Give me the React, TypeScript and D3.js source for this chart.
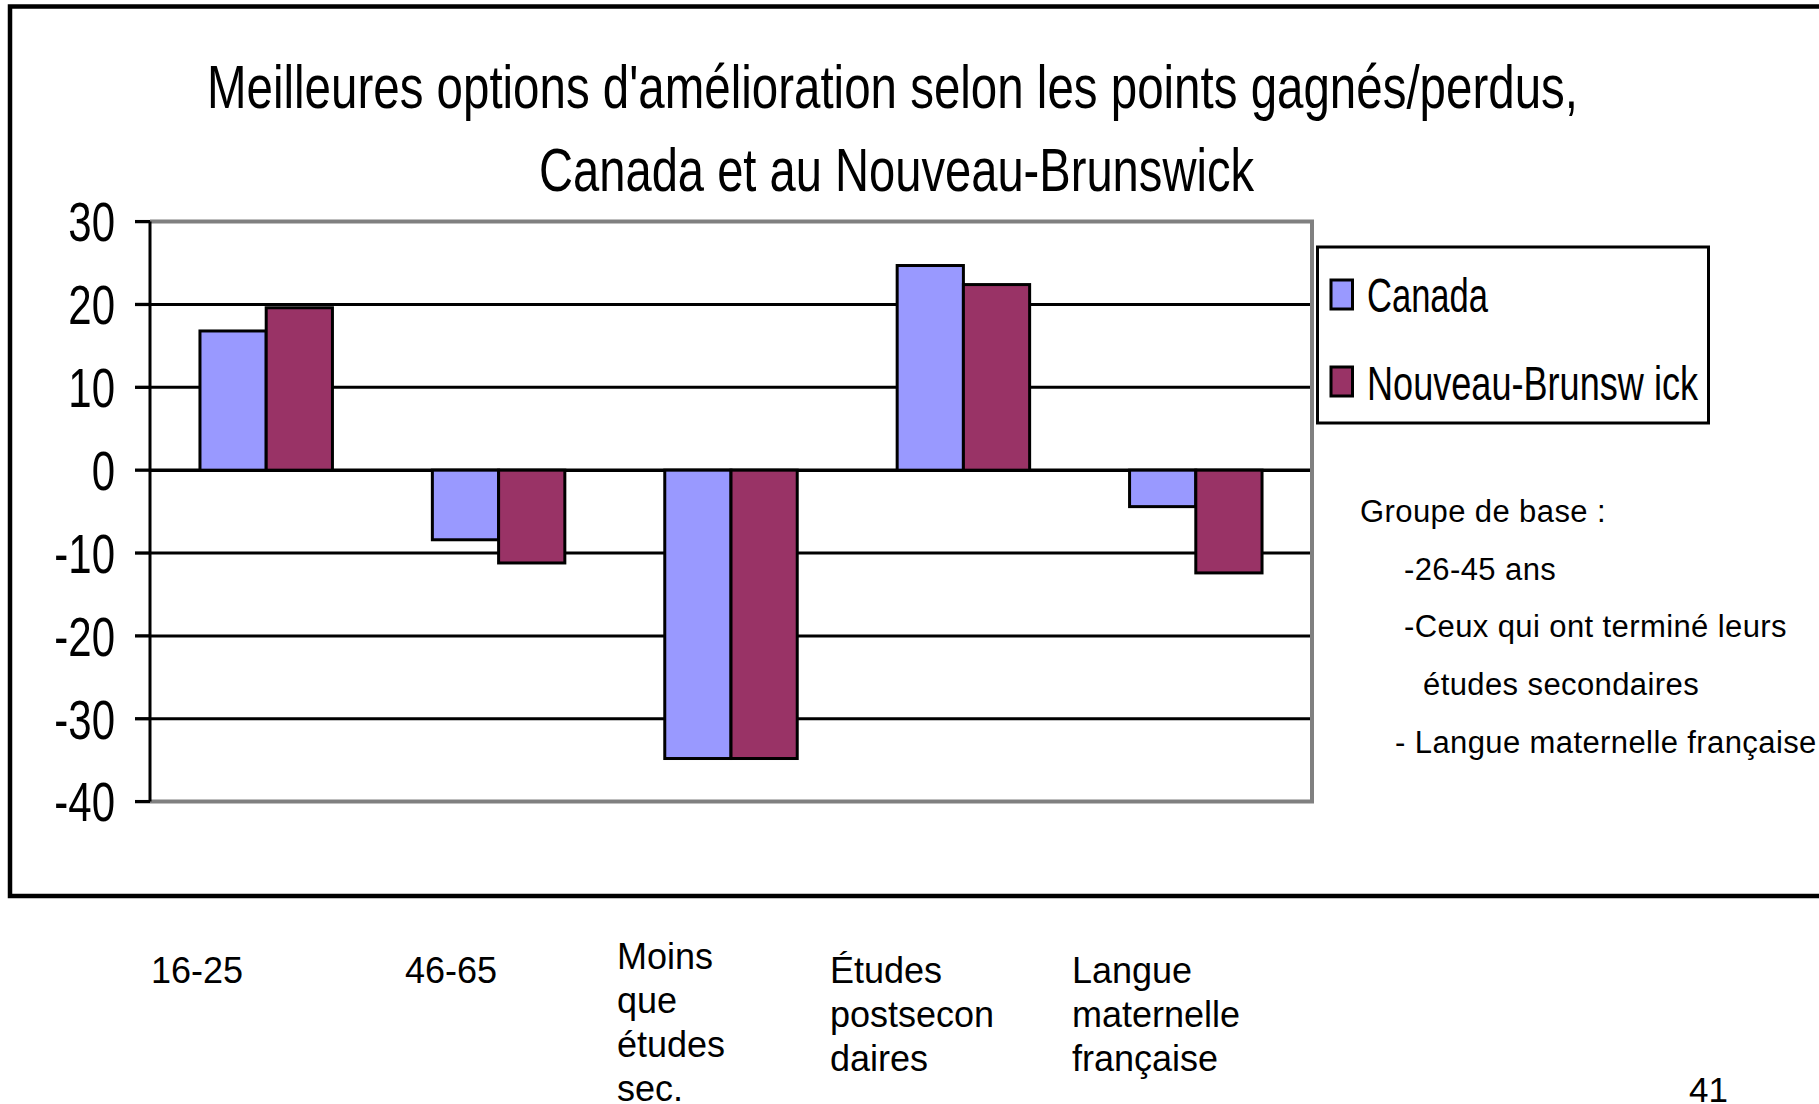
import React from 'react';
import * as d3 from 'd3';

// chart data
const categories = [
  '16-25',
  '46-65',
  'Moins que études sec.',
  'Études postsecondaires',
  'Langue maternelle française'
];
const seriesNames = ['Canada', 'Nouveau-Brunsw ick'];
const canadaValues = [16.8, -8.4, -34.8, 24.7, -4.4];
const nbValues = [19.6, -11.2, -34.8, 22.4, -12.4];
const yTicks = [30, 20, 10, 0, -10, -20, -30, -40];

const titleLines = [
  "Meilleures options d'amélioration selon les points gagnés/perdus,",
  'Canada et au Nouveau-Brunswick'
];
const categoryLabelLines = [
  ['16-25'],
  ['46-65'],
  ['Moins', 'que', 'études', 'sec.'],
  ['Études', 'postsecon', 'daires'],
  ['Langue', 'maternelle', 'française']
];
const noteLines = [
  'Groupe de base :',
  '-26-45 ans',
  '-Ceux qui ont terminé leurs',
  'études secondaires',
  '- Langue maternelle française'
];
const pageNumber = '41';

// layout
const W = 1819;
const H = 1104;
const plot = { left: 150, right: 1312, top: 221.6, bottom: 801.6 };
const colors = ['#9999FF', '#993366'];
const font = 'Liberation Sans, Arial, Helvetica, sans-serif';
const labelX = [151, 405, 617, 830, 1072];
const labelTop = [983, 983, 969, 983, 983];
const noteX = [1360, 1404, 1404, 1423, 1395];
const legendTextLen = [121, 331];

const App = () => {
  const x0 = d3
    .scaleBand<string>()
    .domain(categories)
    .range([plot.left, plot.right])
    .paddingInner(0.43)
    .paddingOuter(0.215);
  const x1 = d3
    .scaleBand<string>()
    .domain(seriesNames)
    .range([0, x0.bandwidth()]);
  const y = d3.scaleLinear().domain([-40, 30]).range([plot.bottom, plot.top]);

  const series = [canadaValues, nbValues];

  return (
    <svg
      width={W}
      height={H}
      style={{ position: 'absolute', left: 0, top: 0, display: 'block', background: '#fff' }}
      fontFamily={font}
    >
      <rect x={0} y={0} width={W} height={H} fill="#fff" />
      {/* slide frame */}
      <rect x={10} y={6.5} width={1840} height={889.5} fill="none" stroke="#000" strokeWidth={4.5} />

      {/* title */}
      <text x={207} y={108} fontSize={61} textLength={1371} lengthAdjust="spacingAndGlyphs">
        {titleLines[0]}
      </text>
      <text x={539} y={191} fontSize={61} textLength={715} lengthAdjust="spacingAndGlyphs">
        {titleLines[1]}
      </text>

      {/* gridlines */}
      {yTicks
        .filter(t => t !== 30 && t !== -40)
        .map(t => (
          <line
            key={'g' + t}
            x1={plot.left}
            x2={plot.right}
            y1={y(t)}
            y2={y(t)}
            stroke="#000"
            strokeWidth={t === 0 ? 3.5 : 3}
          />
        ))}

      {/* plot border */}
      <polyline
        points={`${plot.left},${plot.top} ${plot.right},${plot.top} ${plot.right},${plot.bottom} ${plot.left},${plot.bottom}`}
        fill="none"
        stroke="#808080"
        strokeWidth={4}
      />

      {/* bars */}
      {categories.map((c, i) => (
        <g key={c} transform={`translate(${x0(c)},0)`}>
          {series.map((vals, s) => {
            const v = vals[i];
            return (
              <rect
                key={s}
                x={x1(seriesNames[s])}
                y={y(Math.max(0, v))}
                width={x1.bandwidth()}
                height={Math.abs(y(v) - y(0))}
                fill={colors[s]}
                stroke="#000"
                strokeWidth={3}
              />
            );
          })}
        </g>
      ))}

      {/* y axis */}
      <line x1={plot.left} x2={plot.left} y1={plot.top} y2={plot.bottom} stroke="#000" strokeWidth={3} />
      {yTicks.map(t => (
        <g key={'t' + t}>
          <line x1={plot.left - 15} x2={plot.left} y1={y(t)} y2={y(t)} stroke="#000" strokeWidth={3.3} />
          <text
            transform={`translate(115,${y(t)}) scale(0.75,1)`}
            textAnchor="end"
            dominantBaseline="central"
            fontSize={56}
          >
            {t}
          </text>
        </g>
      ))}

      {/* legend */}
      <rect x={1317.5} y={247} width={391} height={176} fill="#fff" stroke="#000" strokeWidth={3} />
      {seriesNames.map((name, s) => (
        <g key={name}>
          <rect
            x={1331}
            y={s === 0 ? 280 : 367}
            width={21.5}
            height={29}
            fill={colors[s]}
            stroke="#000"
            strokeWidth={3}
          />
          <text
            x={1367}
            y={s === 0 ? 311.5 : 400}
            fontSize={49}
            textLength={legendTextLen[s]}
            lengthAdjust="spacingAndGlyphs"
          >
            {name}
          </text>
        </g>
      ))}

      {/* note */}
      {noteLines.map((line, i) => (
        <text key={line} x={noteX[i]} y={522 + i * 57.7} fontSize={31} letterSpacing={0.4}>
          {line}
        </text>
      ))}

      {/* category labels (below frame) */}
      {categoryLabelLines.map((lines, i) =>
        lines.map((line, j) => (
          <text key={i + '-' + j} x={labelX[i]} y={labelTop[i] + j * 44} fontSize={36}>
            {line}
          </text>
        ))
      )}

      <text x={1689} y={1102} fontSize={35}>
        {pageNumber}
      </text>
    </svg>
  );
};

export default App;
